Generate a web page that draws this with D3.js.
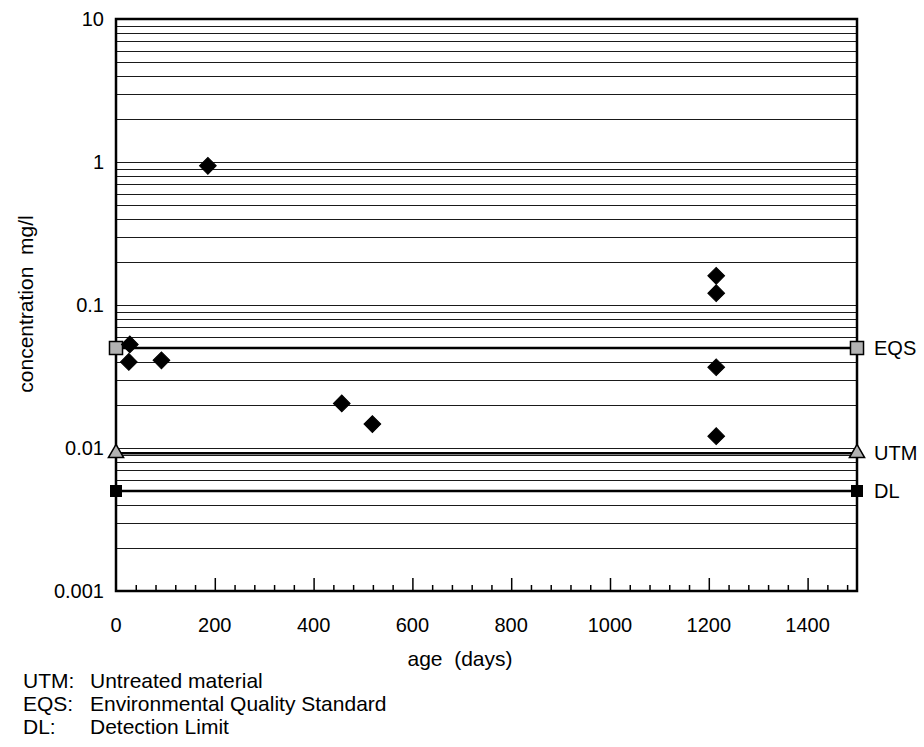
<html>
<head>
<script src="https://d3js.org/d3.v7.min.js"></script>
<style>
  body { margin: 0; background: white; }
  text { font-family: "Liberation Sans", Arial, sans-serif; fill: black; }
</style>
</head>
<body>
<div id="chart"></div>
<script>
// sample points
const days = [28, 26, 92, 186, 457, 519, 1215, 1215, 1215, 1215];
const conc = [0.053, 0.040, 0.041, 0.94, 0.0205, 0.0147, 0.160, 0.121, 0.0367, 0.0121];

// horizontal limit lines
const refNames = ["EQS", "UTM", "DL"];
const refValues = [0.05, 0.0092, 0.005];
const refDays = [0, 1500];

const yTicks = [0.001, 0.01, 0.1, 1, 10];
const yTickLabels = ["0.001", "0.01", "0.1", "1", "10"];
const xTicks = [0, 200, 400, 600, 800, 1000, 1200, 1400];

const notesKey = ["UTM:", "EQS:", "DL:"];
const notesText = ["Untreated material", "Environmental Quality Standard", "Detection Limit"];

const w = 924, h = 747;
const plotL = 116, plotR = 857, plotT = 19, plotB = 591;

const svg = d3.select("#chart").append("svg")
    .attr("width", w)
    .attr("height", h);

const x = d3.scaleLinear().domain([0, 1500]).range([plotL, plotR]);
const y = d3.scaleLog().domain([0.001, 10]).range([plotB, plotT]);

// grid: 1..9 of every decade
const gridVals = [];
for (let e = -3; e < 1; e++) {
    for (let m = 1; m <= 9; m++) gridVals.push(m * Math.pow(10, e));
}
svg.append("g")
    .selectAll("line")
    .data(gridVals.filter(v => v > 0.001))
    .enter().append("line")
    .attr("x1", plotL).attr("x2", plotR)
    .attr("y1", d => Math.round(y(d)) + 0.5)
    .attr("y2", d => Math.round(y(d)) + 0.5)
    .attr("stroke", "#1a1a1a")
    .attr("stroke-width", 1);

// x axis ticks (pointing in)
const xAxis = d3.axisTop(x)
    .tickValues(d3.range(0, 1501, 40).filter(d => d > 0 && d < 1500))
    .tickSize(6)
    .tickFormat("");
svg.append("g")
    .attr("transform", "translate(0," + plotB + ")")
    .call(xAxis)
    .call(g => g.select(".domain").remove())
    .call(g => g.selectAll(".tick line")
        .attr("stroke-width", 1.5)
        .attr("y2", d => d % 200 === 0 ? -13 : -6));

svg.append("g")
    .selectAll("text")
    .data(xTicks)
    .enter().append("text")
    .attr("x", d => x(d))
    .attr("y", 632)
    .attr("text-anchor", "middle")
    .style("font-size", "20px")
    .text(d => d);

svg.append("g")
    .selectAll("text")
    .data(yTicks)
    .enter().append("text")
    .attr("x", 104)
    .attr("y", d => y(d))
    .attr("dy", "0.35em")
    .attr("text-anchor", "end")
    .style("font-size", "20px")
    .text((d, i) => yTickLabels[i]);

// frame
svg.append("rect")
    .attr("x", plotL).attr("y", plotT)
    .attr("width", plotR - plotL).attr("height", plotB - plotT)
    .attr("fill", "none")
    .attr("stroke", "black")
    .attr("stroke-width", 2.5);

// limit lines
refNames.forEach((name, i) => {
    const v = refValues[i];
    svg.append("line")
        .attr("x1", x(refDays[0])).attr("x2", x(refDays[1]))
        .attr("y1", y(v)).attr("y2", y(v))
        .attr("stroke", "black")
        .attr("stroke-width", 2.5);

    let sym, size, fill;
    if (name === "EQS") { sym = d3.symbolSquare; size = 170; fill = "#b2b2b2"; }
    else if (name === "UTM") { sym = d3.symbolTriangle; size = 100; fill = "#b2b2b2"; }
    else { sym = d3.symbolSquare; size = 110; fill = "black"; }

    svg.append("g")
        .selectAll("path")
        .data(refDays)
        .enter().append("path")
        .attr("transform", d => "translate(" + x(d) + "," + y(v) + ")")
        .attr("d", d3.symbol().type(sym).size(size))
        .attr("fill", fill)
        .attr("stroke", "black")
        .attr("stroke-width", 1.5);

    svg.append("text")
        .attr("x", 874)
        .attr("y", y(v))
        .attr("dy", "0.35em")
        .style("font-size", "20px")
        .text(name);
});

// sample diamonds
svg.append("g")
    .selectAll("path")
    .data(days)
    .enter().append("path")
    .attr("transform", (d, i) => "translate(" + x(d) + "," + y(conc[i]) + ") rotate(45)")
    .attr("d", d3.symbol().type(d3.symbolSquare).size(140))
    .attr("fill", "black")
    .attr("stroke", "black")
    .attr("stroke-width", 1);

// axis titles
svg.append("text")
    .attr("transform", "translate(33,304) rotate(-90)")
    .attr("text-anchor", "middle")
    .style("font-size", "21px")
    .style("white-space", "pre")
    .text("concentration  mg/l");

svg.append("text")
    .attr("x", 460)
    .attr("y", 666)
    .attr("text-anchor", "middle")
    .style("font-size", "21px")
    .style("white-space", "pre")
    .text("age  (days)");

// footnotes
notesKey.forEach((k, i) => {
    svg.append("text")
        .attr("x", 23).attr("y", 688 + i * 23)
        .style("font-size", "21px")
        .text(k);
    svg.append("text")
        .attr("x", 90).attr("y", 688 + i * 23)
        .style("font-size", "21px")
        .text(notesText[i]);
});
</script>
</body>
</html>
